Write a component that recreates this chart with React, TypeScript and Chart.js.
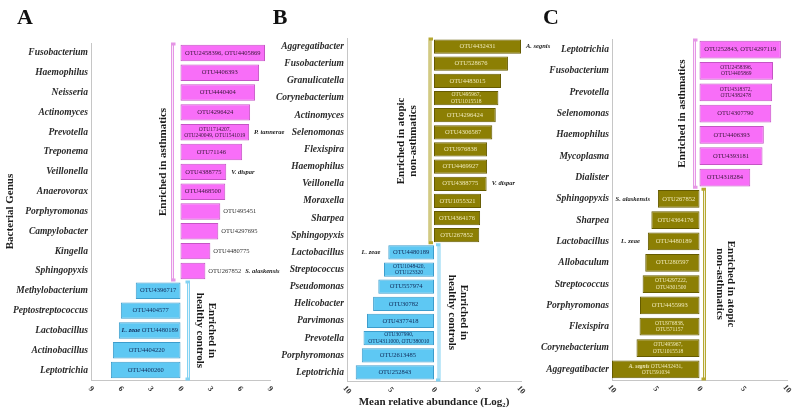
import React, { useEffect, useRef } from "react";
import { Chart, registerables } from "chart.js";

Chart.register(...registerables);

const SERIF = '"Liberation Serif", "Times New Roman", Times, serif';

// ---------- Panel A: asthmatics vs healthy controls ----------
const genusA = ["Fusobacterium", "Haemophilus", "Neisseria", "Actinomyces", "Prevotella", "Treponema", "Veillonella", "Anaerovorax", "Porphyromonas", "Campylobacter", "Kingella", "Sphingopyxis", "Methylobacterium", "Peptostreptococcus", "Lactobacillus", "Actinobacillus", "Leptotrichia"];
const valuesA = [8.5, 7.9, 7.5, 7.0, 6.9, 6.2, 4.6, 4.5, 4.0, 3.8, 3.0, 2.5, -4.5, -6.0, -6.2, -6.8, -7.0];
const otuA = ["OTU2458396, OTU4405869", "OTU4406393", "OTU4440404", "OTU4296424", "OTU1714207,\nOTU240049, OTU1541019", "OTU71146", "OTU4388775", "OTU4468500", "OTU495451", "OTU4297695", "OTU4480775", "OTU267852", "OTU4396717", "OTU4404577", "OTU4480189", "OTU4404220", "OTU4400260"];
const speciesA = ["", "", "", "", "P. tannerae", "", "V. dispar", "", "", "", "", "S. alaskensis", "", "", "L. zeae", "", ""];
const otuOutsideA = ["Porphyromonas", "Campylobacter", "Kingella", "Sphingopyxis"];
const speciesInsideA = ["Lactobacillus"];
const axisMaxA = 9;
const axisStepA = 3;
const groupTextsA = [["Enriched in asthmatics"], ["Enriched in", "healthy controls"]];

// ---------- Panel B: atopic non-asthmatics vs healthy controls ----------
const genusB = ["Aggregatibacter", "Fusobacterium", "Granulicatella", "Corynebacterium", "Actinomyces", "Selenomonas", "Flexispira", "Haemophilus", "Veillonella", "Moraxella", "Sharpea", "Sphingopyxis", "Lactobacillus", "Streptococcus", "Pseudomonas", "Helicobacter", "Parvimonas", "Prevotella", "Porphyromonas", "Leptotrichia"];
const valuesB = [10.0, 8.5, 7.7, 7.4, 7.1, 6.7, 6.1, 6.1, 6.05, 5.4, 5.3, 5.2, -5.25, -5.75, -6.4, -7.0, -7.7, -8.1, -8.3, -9.0];
const otuB = ["OTU4432431", "OTU528676", "OTU4483015", "OTU495967,\nOTU1015518", "OTU4296424", "OTU4306587", "OTU976838", "OTU4469927", "OTU4388775", "OTU1055321", "OTU4364176", "OTU267852", "OTU4480189", "OTU1048420,\nOTU123320", "OTU557974", "OTU30782", "OTU4377418", "OTU307990,\nOTU4311000, OTU380010", "OTU2613485", "OTU252843"];
const speciesB = ["A. segnis", "", "", "", "", "", "", "", "V. dispar", "", "", "", "L. zeae", "", "", "", "", "", "", ""];
const otuOutsideB: string[] = [];
const speciesInsideB: string[] = [];
const axisMaxB = 10;
const axisStepB = 5;
const groupTextsB = [["Enriched in atopic", "non-asthmatics"], ["Enriched in", "healthy controls"]];

// ---------- Panel C: asthmatics vs atopic non-asthmatics ----------
const genusC = ["Leptotrichia", "Fusobacterium", "Prevotella", "Selenomonas", "Haemophilus", "Mycoplasma", "Dialister", "Sphingopyxis", "Sharpea", "Lactobacillus", "Allobaculum", "Streptococcus", "Porphyromonas", "Flexispira", "Corynebacterium", "Aggregatibacter"];
const valuesC = [9.3, 8.4, 8.3, 8.2, 7.35, 7.2, 5.8, -4.75, -5.5, -5.9, -6.2, -6.5, -6.8, -6.85, -7.2, -10.0];
const otuC = ["OTU252843, OTU4297119", "OTU2458396,\nOTU4405869", "OTU4318372,\nOTU4382478", "OTU4307790", "OTU4406393", "OTU4393181", "OTU4318284", "OTU267852", "OTU4364176", "OTU4480189", "OTU280597", "OTU4297222,\nOTU4301500", "OTU4455993", "OTU976838,\nOTU571157", "OTU495967,\nOTU1015518", "OTU4432431,\nOTU591034"];
const speciesC = ["", "", "", "", "", "", "", "S. alaskensis", "", "L. zeae", "", "", "", "", "", "A. segnis"];
const otuOutsideC: string[] = [];
const speciesInsideC = ["Aggregatibacter"];
const axisMaxC = 10;
const axisStepC = 5;
const groupTextsC = [["Enriched in asthmatics"], ["Enriched in atopic", "non-asthmatics"]];

const xTitleB = "Mean relative abundance (Log\u2082)";
const yTitleA = "Bacterial Genus";

type Hue = { fill: string; border: string; text: string; bracket: string };
const PINK: Hue = { fill: "#f86ef8", border: "#c455c4", text: "#3a163a", bracket: "#e596e5" };
const BLUE: Hue = { fill: "#5ec8f3", border: "#3d9dcc", text: "#0f2a58", bracket: "#82d2f2" };
const OLIVE: Hue = { fill: "#8c7f04", border: "#655b00", text: "#efe9b8", bracket: "#b5a832" };

type Panel = {
  letter: string; letterX: number;
  genus: string[]; values: number[]; otu: string[]; species: string[];
  otuOutside: string[]; speciesInside: string[];
  axisMax: number; axisStep: number;
  pos: Hue; neg: Hue;
  padLeft: number; yWidth: number; top: number; right: number; bottom: number;
  posBr: number; negBr: number; posGap: number; negGap: number;
  groupTexts: string[][];
  yTitle?: string; xTitle?: string;
};

const panels: Panel[] = [
  { letter: "A", letterX: 25, genus: genusA, values: valuesA, otu: otuA, species: speciesA, otuOutside: otuOutsideA, speciesInside: speciesInsideA, axisMax: axisMaxA, axisStep: axisStepA, pos: PINK, neg: BLUE, padLeft: 0, yWidth: 91, top: 43, right: 270, bottom: 380, posBr: -8, negBr: 8, posGap: 9.5, negGap: 11.5, groupTexts: groupTextsA, yTitle: yTitleA },
  { letter: "B", letterX: 280, genus: genusB, values: valuesB, otu: otuB, species: speciesB, otuOutside: otuOutsideB, speciesInside: speciesInsideB, axisMax: axisMaxB, axisStep: axisStepB, pos: OLIVE, neg: BLUE, padLeft: 262, yWidth: 85, top: 38, right: 521, bottom: 381, posBr: -4, negBr: 5, posGap: 17, negGap: 13, groupTexts: groupTextsB, xTitle: xTitleB },
  { letter: "C", letterX: 551, genus: genusC, values: valuesC, otu: otuC, species: speciesC, otuOutside: otuOutsideC, speciesInside: speciesInsideC, axisMax: axisMaxC, axisStep: axisStepC, pos: PINK, neg: OLIVE, padLeft: 530, yWidth: 82, top: 39, right: 787, bottom: 380, posBr: -5, negBr: 5, posGap: 12, negGap: 15, groupTexts: groupTextsC },
];

function annotations(p: Panel) {
  return {
    id: "annot" + p.letter,
    afterDraw(chart: any) {
      const ctx: CanvasRenderingContext2D = chart.ctx;
      const xs = chart.scales.x;
      const ys = chart.scales.y;
      const meta = chart.getDatasetMeta(0);
      const zero = xs.getPixelForValue(0);
      ctx.save();
      ctx.textBaseline = "middle";

      // OTU and species labels
      meta.data.forEach((el: any, i: number) => {
        const { x, y, base } = el.getProps(["x", "y", "base"], true);
        const left = Math.min(x, base);
        const right = Math.max(x, base);
        const isPos = p.values[i] >= 0;
        const col = isPos ? p.pos : p.neg;
        const lines = p.otu[i].split("\n");
        const fs = lines.length > 1 ? 5.5 : 6.5;
        const lh = fs * 1.12;
        const fontReg = `${fs}px ${SERIF}`;
        const fontSp = `italic bold ${fs}px ${SERIF}`;
        const sp = p.species[i];
        const spInside = !!sp && p.speciesInside.includes(p.genus[i]);
        const inside = !p.otuOutside.includes(p.genus[i]);
        let otuW = 0;
        if (inside) {
          ctx.fillStyle = col.text;
          lines.forEach((ln, k) => {
            const yy = y + (k - (lines.length - 1) / 2) * lh;
            if (k === 0 && spInside) {
              ctx.font = fontSp;
              const w1 = ctx.measureText(sp + " ").width;
              ctx.font = fontReg;
              const w2 = ctx.measureText(ln).width;
              const sx = (left + right) / 2 - (w1 + w2) / 2;
              ctx.textAlign = "left";
              ctx.font = fontSp;
              ctx.fillText(sp + " ", sx, yy);
              ctx.font = fontReg;
              ctx.fillText(ln, sx + w1, yy);
            } else {
              ctx.font = fontReg;
              ctx.textAlign = "center";
              ctx.fillText(ln, (left + right) / 2, yy);
            }
          });
        } else {
          ctx.fillStyle = "#333";
          ctx.font = fontReg;
          lines.forEach((ln, k) => {
            const yy = y + (k - (lines.length - 1) / 2) * lh;
            otuW = Math.max(otuW, ctx.measureText(ln).width);
            if (isPos) {
              ctx.textAlign = "left";
              ctx.fillText(ln, right + 3, yy);
            } else {
              ctx.textAlign = "right";
              ctx.fillText(ln, left - 3, yy);
            }
          });
        }
        if (sp && !spInside) {
          ctx.fillStyle = "#222";
          ctx.font = `italic bold 6.5px ${SERIF}`;
          if (isPos) {
            ctx.textAlign = "left";
            ctx.fillText(sp, inside ? right + 5 : right + 3 + otuW + 4, y);
          } else {
            ctx.textAlign = "right";
            ctx.fillText(sp, inside ? left - 8 : left - 3 - otuW - 4, y);
          }
        }
      });

      // x tick labels (absolute values, rotated)
      ctx.fillStyle = "#333";
      ctx.font = `bold 8px ${SERIF}`;
      ctx.textAlign = "center";
      xs.ticks.forEach((t: any) => {
        const px = xs.getPixelForValue(t.value);
        ctx.save();
        ctx.translate(px, xs.top + 9);
        ctx.rotate((50 * Math.PI) / 180);
        ctx.fillText(String(Math.abs(t.value)), 0, 0);
        ctx.restore();
      });

      // group brackets and texts
      const n = p.genus.length;
      const band = (ys.bottom - ys.top) / n;
      const groups = [
        { idx: p.values.map((v, i) => (v >= 0 ? i : -1)).filter((i) => i >= 0), hue: p.pos, bx: zero + p.posBr, dir: 1, gap: p.posGap, texts: p.groupTexts[0] },
        { idx: p.values.map((v, i) => (v < 0 ? i : -1)).filter((i) => i >= 0), hue: p.neg, bx: zero + p.negBr, dir: -1, gap: p.negGap, texts: p.groupTexts[1] },
      ];
      groups.forEach((g) => {
        if (!g.idx.length) return;
        const yTop = meta.data[g.idx[0]].y - band / 2 + 1;
        const yBot = meta.data[g.idx[g.idx.length - 1]].y + band / 2 - 1;
        const path = () => {
          ctx.beginPath();
          ctx.moveTo(g.bx + 3 * g.dir, yTop);
          ctx.lineTo(g.bx, yTop);
          ctx.lineTo(g.bx, yBot);
          ctx.lineTo(g.bx + 3 * g.dir, yBot);
        };
        ctx.strokeStyle = g.hue.bracket;
        ctx.lineWidth = 3;
        path();
        ctx.stroke();
        ctx.strokeStyle = "#ffffff";
        ctx.lineWidth = 0.8;
        ctx.beginPath();
        ctx.moveTo(g.bx, yTop + 1.5);
        ctx.lineTo(g.bx, yBot - 1.5);
        ctx.stroke();

        const cy = (yTop + yBot) / 2;
        const lh = 11.5;
        const m = g.texts.length;
        ctx.fillStyle = "#1a1a1a";
        ctx.font = `bold 11px ${SERIF}`;
        ctx.textAlign = "center";
        g.texts.forEach((t, k) => {
          const off = g.gap + (m - 1 - k) * lh;
          const cx = g.dir === 1 ? g.bx - off : g.bx + off;
          ctx.save();
          ctx.translate(cx, cy);
          ctx.rotate(g.dir === 1 ? -Math.PI / 2 : Math.PI / 2);
          ctx.fillText(t, 0, 0);
          ctx.restore();
        });
      });

      // panel letter
      ctx.fillStyle = "#111";
      ctx.font = `bold 22px ${SERIF}`;
      ctx.textAlign = "center";
      ctx.fillText(p.letter, p.letterX, 18);
      ctx.restore();
    },
  };
}

function makePanel(canvas: HTMLCanvasElement, p: Panel) {
  return new Chart(canvas, {
    type: "bar",
    data: {
      labels: p.genus,
      datasets: [
        {
          data: p.values,
          backgroundColor: p.values.map((v) => (v >= 0 ? p.pos.fill : p.neg.fill)),
          borderColor: p.values.map((v) => (v >= 0 ? p.pos.border : p.neg.border)),
          borderWidth: 1,
          borderSkipped: false,
          barPercentage: 0.83,
          categoryPercentage: 1,
        },
      ],
    },
    options: {
      indexAxis: "y",
      responsive: false,
      animation: false,
      devicePixelRatio: 1,
      layout: { padding: { left: p.padLeft, right: 800 - p.right, top: p.top, bottom: 0 } },
      plugins: { legend: { display: false }, tooltip: { enabled: false }, title: { display: false } },
      scales: {
        x: {
          type: "linear",
          min: -p.axisMax,
          max: p.axisMax,
          ticks: { stepSize: p.axisStep, display: false },
          grid: { display: false, drawTicks: false },
          border: { display: true, color: "#c6c6c6" },
          title: p.xTitle
            ? { display: true, text: p.xTitle, color: "#222", font: { family: SERIF, size: 11, weight: "bold" }, padding: { top: 0, bottom: 7 } }
            : { display: false },
          afterFit: (s: any) => {
            s.height = 416 - p.bottom;
          },
        },
        y: {
          type: "category",
          ticks: { autoSkip: false, padding: 3, color: "#2a2a2a", font: { family: SERIF, size: 9.5, style: "italic", weight: "bold" } },
          grid: { display: false, drawTicks: false },
          border: { display: true, color: "#c6c6c6" },
          title: p.yTitle
            ? { display: true, text: p.yTitle, color: "#222", font: { family: SERIF, size: 11, weight: "bold" }, padding: { top: 4, bottom: 0 } }
            : { display: false },
          afterFit: (s: any) => {
            s.width = p.yWidth;
          },
        },
      },
    } as any,
    plugins: [annotations(p)],
  });
}

export default function App() {
  const refA = useRef<HTMLCanvasElement>(null);
  const refB = useRef<HTMLCanvasElement>(null);
  const refC = useRef<HTMLCanvasElement>(null);

  useEffect(() => {
    const refs = [refA, refB, refC];
    const charts = refs.map((r, i) => makePanel(r.current as HTMLCanvasElement, panels[i]));
    return () => charts.forEach((c) => c.destroy());
  }, []);

  return (
    <div style={{ position: "absolute", left: 0, top: 0, width: 800, height: 416, background: "#ffffff", overflow: "hidden" }}>
      {[refA, refB, refC].map((r, i) => (
        <canvas key={i} ref={r} width={800} height={416} style={{ position: "absolute", left: 0, top: 0 }} />
      ))}
    </div>
  );
}
